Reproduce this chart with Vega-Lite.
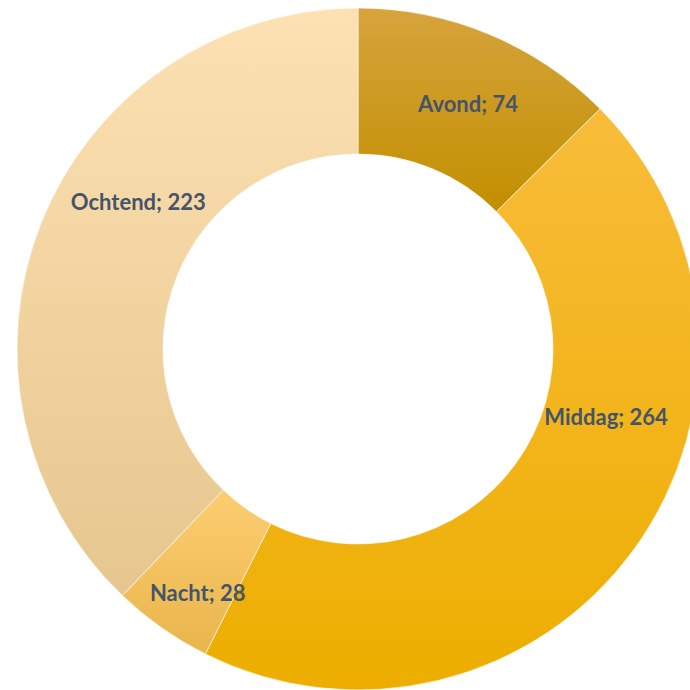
{
  "$schema": "https://vega.github.io/schema/vega-lite/v6.json",
  "width": 716,
  "height": 698,
  "padding": 0,
  "autosize": "none",
  "background": "white",
  "view": {"stroke": null},
  "data": {
    "values": [
      {"rang": 1, "deel": "Avond", "aantal": 74, "label": "Avond; 74"},
      {"rang": 2, "deel": "Middag", "aantal": 264, "label": "Middag; 264"},
      {"rang": 3, "deel": "Nacht", "aantal": 28, "label": "Nacht; 28"},
      {"rang": 4, "deel": "Ochtend", "aantal": 223, "label": "Ochtend; 223"}
    ]
  },
  "encoding": {
    "theta": {"field": "aantal", "type": "quantitative", "stack": true},
    "order": {"field": "rang", "type": "quantitative"}
  },
  "layer": [
    {
      "mark": {"type": "arc", "outerRadius": 341, "innerRadius": 195, "stroke": "#ffffff", "strokeWidth": 1, "strokeOpacity": 0.6},
      "encoding": {
        "fill": {
          "condition": [
            {"test": "datum.deel === 'Avond'", "value": {"gradient": "linear", "x1": 0, "y1": 0, "x2": 0, "y2": 1, "stops": [{"offset": 0, "color": "#D6A43C"}, {"offset": 1, "color": "#C28F00"}]}},
            {"test": "datum.deel === 'Middag'", "value": {"gradient": "linear", "x1": 0, "y1": 0, "x2": 0, "y2": 1, "stops": [{"offset": 0, "color": "#F8BC3A"}, {"offset": 1, "color": "#EDAE00"}]}},
            {"test": "datum.deel === 'Nacht'", "value": {"gradient": "linear", "x1": 0, "y1": 0, "x2": 0, "y2": 1, "stops": [{"offset": 0, "color": "#FECD70"}, {"offset": 1, "color": "#E8B54C"}]}}
          ],
          "value": {"gradient": "linear", "x1": 0, "y1": 0, "x2": 0, "y2": 1, "stops": [{"offset": 0, "color": "#FDE1B3"}, {"offset": 1, "color": "#E6C68E"}]}
        }
      }
    },
    {
      "mark": {"type": "text", "radius": 268, "font": "Lato", "fontWeight": "bold", "fontSize": 22, "fill": "#44546A", "dx": 7, "dy": 3},
      "encoding": {"text": {"condition": {"test": "datum.deel === 'Avond'", "field": "label"}, "value": ""}}
    },
    {
      "mark": {"type": "text", "radius": 268, "font": "Lato", "fontWeight": "bold", "fontSize": 22, "fill": "#44546A", "dx": 31, "dy": -88},
      "encoding": {"text": {"condition": {"test": "datum.deel === 'Middag'", "field": "label"}, "value": ""}}
    },
    {
      "mark": {"type": "text", "radius": 268, "font": "Lato", "fontWeight": "bold", "fontSize": 22, "fill": "#44546A", "dx": -6, "dy": 26},
      "encoding": {"text": {"condition": {"test": "datum.deel === 'Nacht'", "field": "label"}, "value": ""}}
    },
    {
      "mark": {"type": "text", "radius": 268, "font": "Lato", "fontWeight": "bold", "fontSize": 22, "fill": "#44546A", "dx": 29, "dy": -46},
      "encoding": {"text": {"condition": {"test": "datum.deel === 'Ochtend'", "field": "label"}, "value": ""}}
    }
  ]
}
